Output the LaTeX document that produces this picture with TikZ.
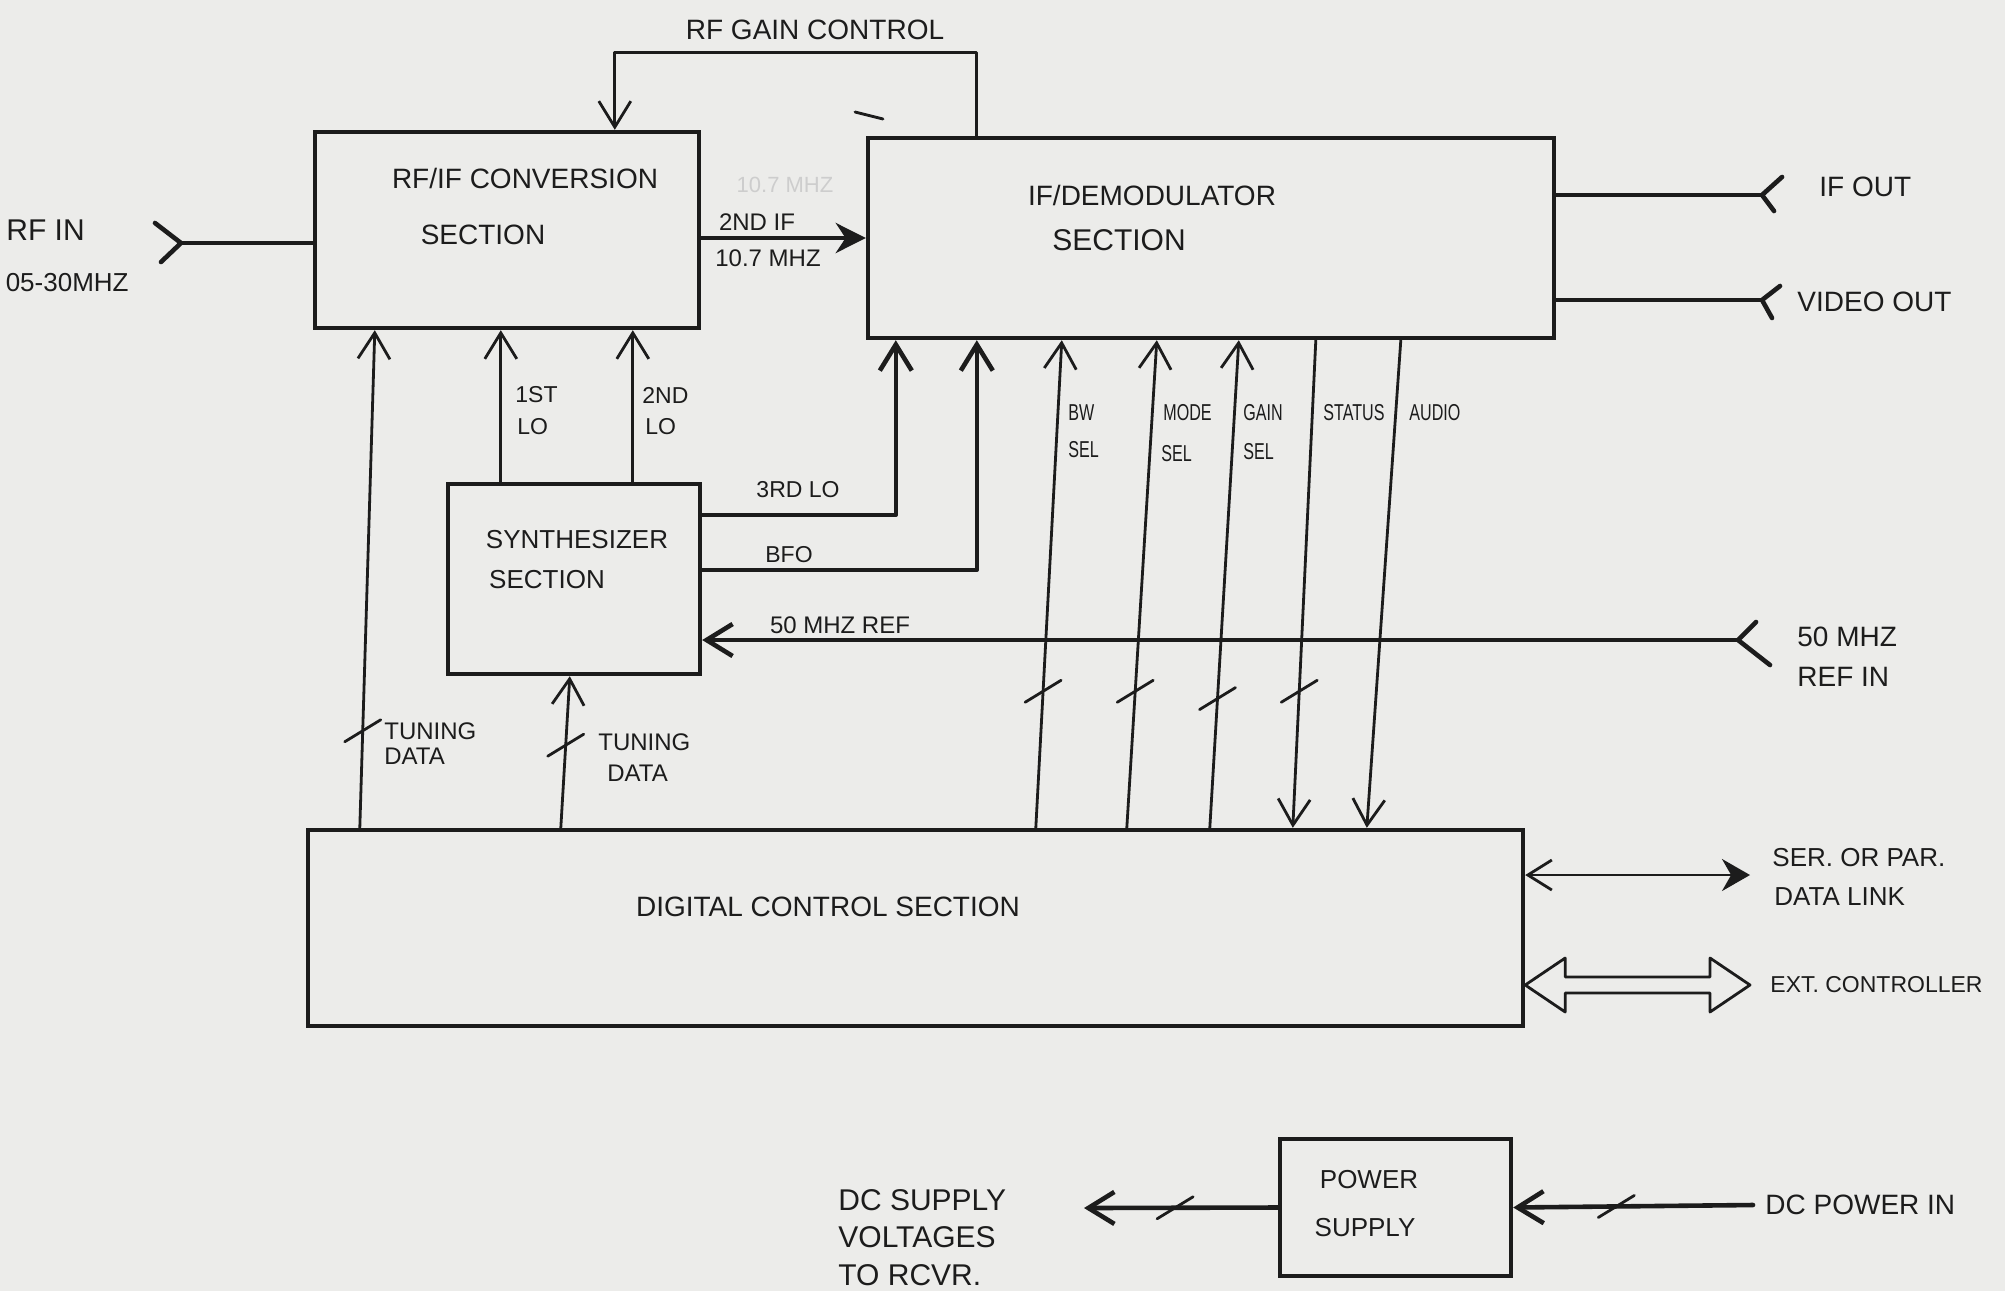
\documentclass[tikz,border=0pt]{standalone}
\usepackage{graphicx}
\usepackage{fontspec}
\setmainfont{Liberation Sans}
\usetikzlibrary{arrows.meta,calc}
\definecolor{paper}{RGB}{236,236,234}
\definecolor{ink}{RGB}{28,28,28}
\newcommand{\narrowtxt}[1]{\scalebox{0.7}[1]{#1}}
\begin{document}
\begin{tikzpicture}[x=0.5pt,y=-0.5pt,
  >={Straight Barb[length=13pt,width=16pt]},
  box/.style={draw=ink,line width=2.2pt,inner sep=0pt},
  conn/.style={draw=ink,line width=1.4pt,line cap=round,line join=round},
  heavy/.style={draw=ink,line width=2.3pt,line cap=round,line join=round},
  lbl/.style={text=ink,inner sep=0pt,font=\fontsize{14}{16}\selectfont},
  sml/.style={text=ink,inner sep=0pt,font=\fontsize{11.5}{13}\selectfont,anchor=west},
  busmark/.pic={\draw[conn,-] (-18,11) -- (18,-11);}
]
\fill[paper] (0,0) rectangle (2005,1291);
\useasboundingbox (0,0) rectangle (2005,1291);

% ---- boxes
\node[box,minimum width=192pt,minimum height=98pt] (rf) at (507,230) {};
\node[box,minimum width=343pt,minimum height=100pt] (ifd) at (1211,238) {};
\node[box,minimum width=126pt,minimum height=95pt] (syn) at (574,579) {};
\node[box,minimum width=607.5pt,minimum height=98pt] (dig) at (915.5,928) {};
\node[box,minimum width=115.5pt,minimum height=68.5pt] (ps) at (1395.5,1207.5) {};

% ---- box texts
\node[lbl] (rfT1) at (525,178) {RF/IF CONVERSION};
\node[lbl] (rfT2) at (483,235) {SECTION};
\node[lbl] (ifT1) at (1152,195) {IF/DEMODULATOR};
\node[lbl,font=\fontsize{15}{17}\selectfont] (ifT2) at (1119,240) {SECTION};
\node[lbl,font=\fontsize{13}{15}\selectfont] (synT1) at (577,540) {SYNTHESIZER};
\node[lbl,font=\fontsize{13}{15}\selectfont] (synT2) at (547,580) {SECTION};
\node[lbl] (digT) at (828,907) {DIGITAL CONTROL SECTION};
\node[lbl,font=\fontsize{13}{15}\selectfont] (psT1) at (1369,1180) {POWER};
\node[lbl,font=\fontsize{13}{15}\selectfont] (psT2) at (1365,1228) {SUPPLY};

% ---- RF IN
\coordinate (rfinJ) at (181,243);
\draw[heavy] (rfinJ) -- (rfinJ -| rf.west);
\draw[heavy] (rfinJ) -- ++(-26,-20) (rfinJ) -- ++(-20,19);
\node[lbl,anchor=west,font=\fontsize{15}{17}\selectfont] (rfinT) at (6,230) {RF IN};
\node[lbl,anchor=east,font=\fontsize{13}{15}\selectfont] (rfinT2) at (129,283) {05-30MHZ};

% ---- RF gain control loop
\draw[conn,->] ($(ifd.north west)+(111,0)$) -- ++(0,-83) -| ($(rf.north west)+(302,0)$);
\node[lbl] (gainT) at (815,30) {RF GAIN CONTROL};
\draw[conn] (855,112) -- (883,119);

% ---- 2nd IF
\draw[heavy,-{Stealth[length=15pt,width=15pt]}] (ifd.west -| rf.east) -- (ifd.west);
\node[lbl,font=\fontsize{11}{13}\selectfont,text=ink!22] (ifT0) at (785,185) {10.7 MHZ};
\node[lbl,font=\fontsize{12}{14}\selectfont] (ifT3) at (757,222) {2ND IF};
\node[lbl,font=\fontsize{12}{14}\selectfont] (ifT4) at (768,258) {10.7 MHZ};

% ---- IF OUT / VIDEO OUT
\coordinate (ifoJ) at (1762,195);
\coordinate (vidJ) at (1762,300);
\draw[heavy] (ifd.east |- ifoJ) -- (ifoJ);
\draw[heavy] (ifoJ) -- ++(20,-18) (ifoJ) -- ++(12,16);
\draw[heavy] (ifd.east |- vidJ) -- (vidJ);
\draw[heavy] (vidJ) -- ++(18,-14) (vidJ) -- ++(10,18);
\node[lbl,anchor=west] (ifoT) at (1819,187) {IF OUT};
\node[lbl,anchor=west] (vidT) at (1797,302) {VIDEO OUT};

% ---- LO lines
\draw[conn,->] ($(syn.north west)+(55,0)$) -- ($(rf.south west)+(188,0)$);
\draw[conn,->] ($(syn.north west)+(187,0)$) -- ($(rf.south west)+(320,0)$);
\node[lbl,anchor=west,font=\fontsize{11.5}{13}\selectfont] (lo1a) at (515,395) {1ST};
\node[lbl,anchor=west,font=\fontsize{11.5}{13}\selectfont] (lo1b) at (517,427) {LO};
\node[lbl,anchor=west,font=\fontsize{11.5}{13}\selectfont] (lo2a) at (642,395) {2ND};
\node[lbl,anchor=west,font=\fontsize{11.5}{13}\selectfont] (lo2b) at (645,427) {LO};

\draw[heavy,->] ($(syn.north east)+(0,33)$) -| ($(ifd.south west)+(30,0)$);
\draw[heavy,->] ($(syn.north east)+(0,88)$) -| ($(ifd.south west)+(111,0)$);
\node[lbl,font=\fontsize{11.5}{13}\selectfont] (lo3) at (798,490) {3RD LO};
\node[lbl,font=\fontsize{11.5}{13}\selectfont] (bfo) at (789,555) {BFO};

% ---- 50 MHz ref
\coordinate (refJ) at (1738,640);
\draw[heavy,->] (refJ) -- (refJ -| syn.east);
\draw[heavy] (refJ) -- ++(18,-18) (refJ) -- ++(32,25);
\node[lbl,font=\fontsize{12}{14}\selectfont] (refT) at (840,625) {50 MHZ REF};
\node[lbl,anchor=west] (refT1) at (1797,637) {50 MHZ};
\node[lbl,anchor=west] (refT2) at (1797,677) {REF IN};

% ---- control lines
\draw[conn,->] ($(dig.north west)+(730,0)$) -- pic[pos=0.28]{busmark} ($(ifd.south west)+(196,0)$);
\draw[conn,->] ($(dig.north west)+(821,0)$) -- pic[pos=0.28]{busmark} ($(ifd.south west)+(291,0)$);
\draw[conn,->] ($(dig.north west)+(904,0)$) -- pic[pos=0.265]{busmark} ($(ifd.south west)+(373,0)$);
\draw[conn,->] ($(ifd.south west)+(450,0)$) -- pic[pos=0.72]{busmark} ($(dig.north west)+(987,0)$);
\draw[conn,->] ($(ifd.south west)+(535,0)$) -- ($(dig.north west)+(1061,0)$);
\node[sml] (bw1) at (1068,413) {\narrowtxt{BW}};
\node[sml] (bw2) at (1068,450) {\narrowtxt{SEL}};
\node[sml] (md1) at (1163,413) {\narrowtxt{MODE}};
\node[sml] (md2) at (1161,454) {\narrowtxt{SEL}};
\node[sml] (gn1) at (1243,413) {\narrowtxt{GAIN}};
\node[sml] (gn2) at (1243,452) {\narrowtxt{SEL}};
\node[sml] (st1) at (1323,413) {\narrowtxt{STATUS}};
\node[sml] (au1) at (1409,413) {\narrowtxt{AUDIO}};

% ---- tuning data
\draw[conn,->] ($(dig.north west)+(54,0)$) -- pic[pos=0.195]{busmark} ($(rf.south west)+(62,0)$);
\draw[conn,->] ($(dig.north west)+(255,0)$) -- pic[pos=0.545]{busmark} ($(syn.south west)+(124,0)$);
\node[lbl,anchor=west,font=\fontsize{12}{14}\selectfont] (tu1a) at (384,731) {TUNING};
\node[lbl,anchor=west,font=\fontsize{12}{14}\selectfont] (tu1b) at (384,756) {DATA};
\node[lbl,anchor=west,font=\fontsize{12}{14}\selectfont] (tu2a) at (598,742) {TUNING};
\node[lbl,anchor=west,font=\fontsize{12}{14}\selectfont] (tu2b) at (607,773) {DATA};

% ---- data link
\coordinate (serE) at (1750,875);
\draw[conn,{Straight Barb[length=12pt,width=15pt]}-{Stealth[length=14pt,width=16pt]}] (serE -| dig.east) -- (serE);
\node[lbl,anchor=west,font=\fontsize{13}{15}\selectfont] (serT1) at (1772,858) {SER. OR PAR.};
\node[lbl,anchor=west,font=\fontsize{13}{15}\selectfont] (serT2) at (1774,897) {DATA LINK};

% ---- ext controller (hollow double arrow)
\coordinate (extR) at (1750,985);
\coordinate (extL) at (extR -| dig.east);
\draw[conn] (extL) -- ++(40,-27) -- ++(0,19) -- ($(extR)+(-40,-8)$) -- ++(0,-19) -- (extR)
  -- ++(-40,27) -- ++(0,-19) -- ($(extL)+(40,8)$) -- ++(0,19) -- cycle;
\node[lbl,anchor=west,font=\fontsize{11.5}{13}\selectfont] (extT) at (1770,985) {EXT. CONTROLLER};

% ---- power
\coordinate (dcout) at (1084,1208);
\coordinate (dcin) at (1753,1205);
\draw[heavy,->] (ps.west) -- pic[pos=0.53]{busmark} (dcout);
\draw[heavy,->] (dcin) -- pic[pos=0.57]{busmark} (ps.east);
\node[lbl,anchor=west,font=\fontsize{15}{17}\selectfont] (dc1) at (838,1200) {DC SUPPLY};
\node[lbl,anchor=west,font=\fontsize{15}{17}\selectfont] (dc2) at (838,1237) {VOLTAGES};
\node[lbl,anchor=west,font=\fontsize{15}{17}\selectfont] (dc3) at (838,1275) {TO RCVR.};
\node[lbl,anchor=west] (dcinT) at (1765,1205) {DC POWER IN};
\end{tikzpicture}
\end{document}
